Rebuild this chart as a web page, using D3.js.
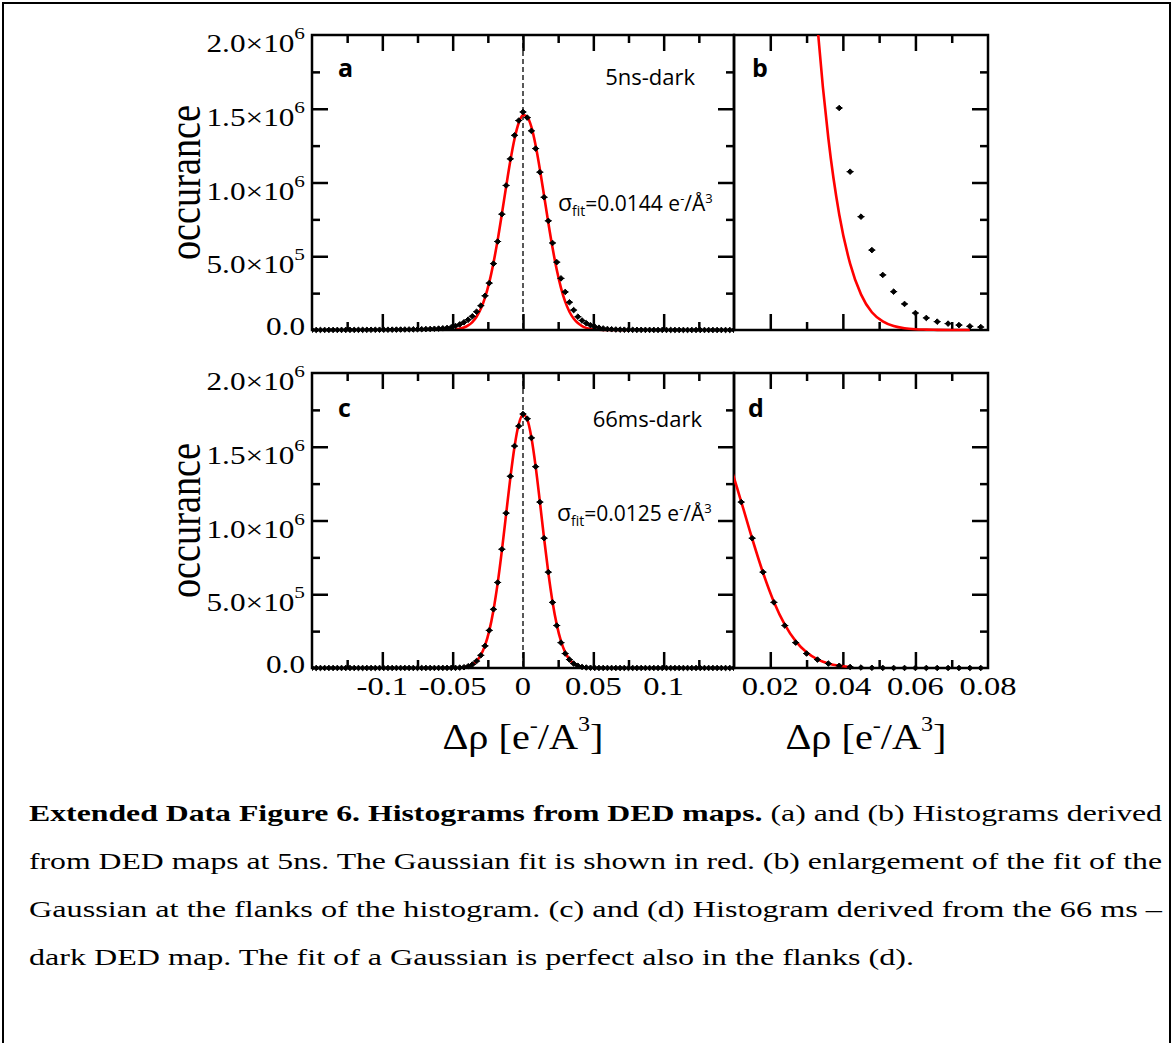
<!DOCTYPE html>
<html>
<head>
<meta charset="utf-8">
<script src="https://cdn.jsdelivr.net/npm/d3@7"></script>
<style>
body { margin: 0; background: #fff; }
</style>
</head>
<body>
<div id="chart"></div>
<script>
var W = 1173, H = 1043;

// histogram bin centres, step 0.003 e/A^3, from -0.15 to 0.15
var binStep = 0.003;
var bins = d3.range(-50, 51).map(function (k) { return +(k * binStep).toFixed(3); });

// occurrences per bin, in thousands
var counts5ns = [
    0.3, 0.3, 0.4, 0.4, 0.5, 0.5, 0.6, 0.6, 0.7, 0.8,
    0.9, 1.0, 1.1, 1.2, 1.4, 1.5, 1.7, 1.9, 2.1, 2.4,
    2.7, 3.0, 3.4, 3.8, 4.3, 4.9, 5.5, 6.3, 7.2, 8.3, 9.6, 11.5, 14, 19,
    27, 38, 52, 70, 93, 124, 165, 232, 318, 450, 600, 785, 980, 1160, 1320, 1420,
    1478,
    1440, 1350, 1230, 1070, 900, 740, 590, 460, 350, 258, 188, 135, 90.3, 64.4, 46.1, 32.5,
    22.4, 15.6, 10.6, 6.9, 4.9, 3.4, 2.6, 2.0, 1.5, 1.2,
    1.0, 0.9, 0.8, 0.7, 0.6, 0.5, 0.5, 0.4, 0.4, 0.3, 0.3, 0.3,
    0.2, 0.2, 0.2, 0.2, 0.1, 0.1, 0.1, 0.1, 0.1, 0.1, 0.1, 0.1
];
var counts66ms = [
    0.1, 0.1, 0.1, 0.1, 0.1, 0.1, 0.1, 0.1, 0.1, 0.1,
    0.1, 0.1, 0.1, 0.1, 0.2, 0.2, 0.2, 0.2, 0.2, 0.2,
    0.3, 0.3, 0.3, 0.3, 0.3, 0.4, 0.4, 0.4, 0.5, 0.5, 0.6, 0.6, 0.7, 0.8,
    0.9, 2.4, 5.2, 12, 24, 47, 86, 150, 255, 398, 580, 805, 1050, 1300, 1505, 1640,
    1722,
    1690, 1560, 1365, 1125, 880, 650, 445, 288, 172, 98, 57, 30, 15, 7, 3.1, 1.4,
    0.6, 0.3, 0.2, 0.2, 0.2, 0.1, 0.1, 0.1, 0.1, 0.1,
    0.1, 0.1, 0.1, 0.1, 0.1, 0.1, 0.1, 0.1, 0.1, 0.1, 0.1, 0.1,
    0.1, 0.1, 0.1, 0.1, 0.1, 0.1, 0.1, 0.1, 0.1, 0.1, 0.1, 0.1
];

// gaussian fits in thousands, sampled on the bins starting at bin index fit*Start
var fit5nsStart = -16;
var fit5ns = [
    4.5, 8.9, 16.9, 31, 54, 90, 144, 220, 323, 455, 611, 788, 971, 1147, 1297, 1405,
    1457,
    1446, 1375, 1251, 1090, 910, 727, 557, 408, 286, 192, 124, 78, 47, 27, 14.5, 7.2,
    3.5, 1.6, 0.7, 0.3, 0.15, 0.05, 0, 0, 0
];
var fit66msStart = -14;
var fit66ms = [
    5.3, 11.7, 24.2, 47.4, 87.6, 153, 252, 392, 575, 797, 1043, 1289, 1502, 1654,
    1719,
    1686, 1561, 1365, 1127, 878, 646, 448, 294, 182, 106, 58.5, 30.5, 15.0, 7.0
];

// ticks
var yTicks = [0, 500, 1000, 1500, 2000];
var yTickBase = ["0.0", "5.0×10", "1.0×10", "1.5×10", "2.0×10"];
var yTickExp = ["", "5", "6", "6", "6"];
var yMinor = [250, 750, 1250, 1750];
var yZoomMajor = [30, 60, 90];
var yZoomMinor = [15, 45, 75, 105];
var xWideTicks = [-0.1, -0.05, 0, 0.05, 0.1];
var xWideLabels = ["-0.1", "-0.05", "0", "0.05", "0.1"];
var xWideMinor = [-0.125, -0.075, -0.025, 0.025, 0.075, 0.125];
var xZoomTicks = [0.02, 0.04, 0.06, 0.08];
var xZoomLabels = ["0.02", "0.04", "0.06", "0.08"];
var xZoomMinor = [0.03, 0.05, 0.07];

var captionLines = [
    ["Extended Data Figure 6. Histograms from DED maps.", " (a) and (b) Histograms derived"],
    ["", "from DED maps at 5ns. The Gaussian fit is shown in red. (b) enlargement of the fit of the"],
    ["", "Gaussian at the flanks of the histogram. (c) and (d) Histogram derived from the 66 ms –"],
    ["", "dark DED map. The fit of a Gaussian is perfect also in the flanks (d)."]
];

var serif = "'Liberation Serif', 'Times New Roman', serif";
var sans = "'Open Sans', 'Noto Sans', sans-serif";
// the original figure is stretched sideways
var stretch = 1.25;

var svg = d3.select("#chart").append("svg")
    .attr("width", W)
    .attr("height", H)
    .style("display", "block");

svg.append("rect").attr("width", W).attr("height", H).attr("fill", "#fff");

// page border (no bottom edge in the picture)
svg.append("path")
    .attr("d", "M3," + H + "V3H1170V" + H)
    .attr("fill", "none")
    .attr("stroke", "#000")
    .attr("stroke-width", 2);

var xWide = d3.scaleLinear().domain([-0.15, 0.15]).range([312, 734]);
var xZoom = d3.scaleLinear().domain([0.01, 0.08]).range([734, 988]);
var yTopRow = d3.scaleLinear().domain([0, 2000]).range([330, 35]);
var yBotRow = d3.scaleLinear().domain([0, 2000]).range([668, 373]);
var yZoomB = d3.scaleLinear().domain([0, 120]).range([330, 35]);

var panels = [
    {name: "a", x: xWide, y: yTopRow, counts: counts5ns, fit: fit5ns, fitStart: fit5nsStart,
        wide: true, zoomY: false, tag: "5ns-dark", sigma: "0.0144",
        labelPos: [338, 77], tagPos: [695, 85], sigmaPos: [558, 211]},
    {name: "b", x: xZoom, y: yZoomB, counts: counts5ns, fit: fit5ns, fitStart: fit5nsStart,
        wide: false, zoomY: true, labelPos: [752, 77]},
    {name: "c", x: xWide, y: yBotRow, counts: counts66ms, fit: fit66ms, fitStart: fit66msStart,
        wide: true, zoomY: false, tag: "66ms-dark", sigma: "0.0125",
        labelPos: [338, 417], tagPos: [702, 427], sigmaPos: [557, 521]},
    {name: "d", x: xZoom, y: yBotRow, counts: counts66ms, fit: fit66ms, fitStart: fit66msStart,
        wide: false, zoomY: false, labelPos: [748, 417]}
];

var defs = svg.append("defs");

function tickSet(layer, gen, values, len, tx, ty) {
    layer.append("g")
        .attr("transform", "translate(" + tx + "," + ty + ")")
        .call(gen.tickValues(values).tickSize(-len).tickSizeOuter(0).tickFormat(""))
        .call(function (s) {
            s.select(".domain").remove();
            s.selectAll(".tick line").attr("stroke", "#000").attr("stroke-width", 2.5);
            s.selectAll(".tick text").remove();
        });
}

var markerPath = "M-3.5,0H3.5M0,-2.8L2.8,0L0,2.8L-2.8,0Z";

panels.forEach(function (p) {
    var x0 = p.x.range()[0], x1 = p.x.range()[1];
    var yb = p.y.range()[0], yt = p.y.range()[1];
    var clipId = "clip-" + p.name;

    defs.append("clipPath").attr("id", clipId)
        .append("rect")
        .attr("x", x0).attr("y", yt)
        .attr("width", x1 - x0).attr("height", yb - yt + 5);

    var low = svg.append("g").attr("clip-path", "url(#" + clipId + ")");
    var frame = svg.append("g");
    var high = svg.append("g").attr("clip-path", "url(#" + clipId + ")");
    var marks = svg.append("g").attr("clip-path", "url(#" + clipId + ")");

    var fitPts = p.fit.map(function (v, j) { return [bins[p.fitStart + 50 + j], v]; });
    var line = d3.line()
        .x(function (d) { return p.x(d[0]); })
        .y(function (d) { return p.y(d[1]); })
        .curve(d3.curveMonotoneX);

    if (p.wide) {
        low.append("line")
            .attr("x1", p.x(0)).attr("x2", p.x(0))
            .attr("y1", yt).attr("y2", yb)
            .attr("stroke", "#000")
            .attr("stroke-width", 1.3)
            .attr("stroke-dasharray", "5,3");
    }

    // the wide panels have the fit under the axes, the enlargements on top
    (p.wide ? low : high).append("path")
        .datum(fitPts)
        .attr("d", line)
        .attr("fill", "none")
        .attr("stroke", "#f00")
        .attr("stroke-width", 2.6)
        .attr("stroke-linejoin", "round");

    frame.append("rect")
        .attr("x", x0).attr("y", yt)
        .attr("width", x1 - x0).attr("height", yb - yt)
        .attr("fill", "none")
        .attr("stroke", "#000")
        .attr("stroke-width", 2.5);

    var xMaj = p.wide ? xWideTicks : xZoomTicks.filter(function (v) { return v < 0.08; });
    var xMin = p.wide ? xWideMinor : xZoomMinor;
    var yMaj = p.zoomY ? yZoomMajor : [500, 1000, 1500];
    var yMin = p.zoomY ? yZoomMinor : yMinor;

    tickSet(frame, d3.axisBottom(p.x), xMaj, 16, 0, yb);
    tickSet(frame, d3.axisBottom(p.x), xMin, 8, 0, yb);
    tickSet(frame, d3.axisTop(p.x), xMaj, 16, 0, yt);
    tickSet(frame, d3.axisTop(p.x), xMin, 8, 0, yt);
    tickSet(frame, d3.axisRight(p.y), yMaj, 16, x1, 0);
    tickSet(frame, d3.axisRight(p.y), yMin, 8, x1, 0);
    if (p.wide) {
        tickSet(frame, d3.axisLeft(p.y), yMaj, 16, x0, 0);
        tickSet(frame, d3.axisLeft(p.y), yMin, 8, x0, 0);
    }

    // data points
    marks.selectAll("path")
        .data(p.counts.map(function (v, i) { return [bins[i], v]; }))
        .enter()
        .append("path")
        .attr("d", markerPath)
        .attr("transform", function (d) {
            return "translate(" + p.x(d[0]) + "," + p.y(d[1]) + ")";
        })
        .attr("fill", "#000")
        .attr("stroke", "#000")
        .attr("stroke-width", 1);

    // panel letter
    svg.append("text")
        .attr("x", p.labelPos[0]).attr("y", p.labelPos[1])
        .attr("font-family", sans)
        .attr("font-weight", "bold")
        .attr("font-size", 25)
        .text(p.name);

    if (p.wide) {
        svg.append("text")
            .attr("x", p.tagPos[0]).attr("y", p.tagPos[1])
            .attr("text-anchor", "end")
            .attr("font-family", sans)
            .attr("font-size", 22)
            .text(p.tag);

        var s = svg.append("text")
            .attr("x", p.sigmaPos[0]).attr("y", p.sigmaPos[1])
            .attr("font-family", sans)
            .attr("font-size", 21);
        s.append("tspan").attr("font-size", 23).text("σ");
        s.append("tspan").attr("font-size", 14).attr("dy", 5).text("fit");
        s.append("tspan").attr("dy", -5).text("=" + p.sigma + " e");
        s.append("tspan").attr("font-size", 13).attr("dy", -8).text("-");
        s.append("tspan").attr("dy", 8).text("/Å");
        s.append("tspan").attr("font-size", 13).attr("dy", -8).text("3");

        // y tick labels
        yTicks.forEach(function (v, i) {
            var t = svg.append("text")
                .attr("transform", "translate(" + (x0 - 7) + "," + (p.y(v) + (yTickExp[i] ? 17 : 5)) +
                    ") scale(" + stretch + ",1)")
                .attr("text-anchor", "end")
                .attr("font-family", serif)
                .attr("font-size", 25)
                .text(yTickBase[i]);
            if (yTickExp[i]) {
                t.append("tspan").attr("font-size", 17).attr("dy", -13).text(yTickExp[i]);
            }
        });

        svg.append("text")
            .attr("transform", "translate(200," + ((yt + yb) / 2) + ") rotate(-90)")
            .attr("text-anchor", "middle")
            .attr("font-family", serif)
            .attr("font-size", 46)
            .attr("textLength", 155)
            .attr("lengthAdjust", "spacingAndGlyphs")
            .text("occurance");
    }
});

// x tick labels under the bottom row
function xLabels(scale, values, labels) {
    svg.append("g").selectAll("text")
        .data(values)
        .enter()
        .append("text")
        .attr("transform", function (d) {
            return "translate(" + scale(d) + ",695) scale(" + stretch + ",1)";
        })
        .attr("text-anchor", "middle")
        .attr("font-family", serif)
        .attr("font-size", 26)
        .text(function (d, i) { return labels[i]; });
}
xLabels(xWide, xWideTicks, xWideLabels);
xLabels(xZoom, xZoomTicks, xZoomLabels);

// x axis titles
[523, 866].forEach(function (cx) {
    var t = svg.append("text")
        .attr("transform", "translate(" + cx + ",749) scale(1.15,1)")
        .attr("text-anchor", "middle")
        .attr("font-family", serif)
        .attr("font-size", 35);
    t.append("tspan").text("Δρ [e");
    t.append("tspan").attr("font-size", 21).attr("dy", -17).text("-");
    t.append("tspan").attr("dy", 17).text("/A");
    t.append("tspan").attr("font-size", 21).attr("dy", -18).text("3");
    t.append("tspan").attr("dy", 18).text("]");
});

// caption, justified and stretched like the original
var capY = [821, 869, 917, 965];
var capW = [1133, 1133, 1133, 885];
captionLines.forEach(function (ln, i) {
    var t = svg.append("text")
        .attr("x", 29).attr("y", capY[i])
        .attr("font-family", serif)
        .attr("font-size", 24)
        .attr("textLength", capW[i])
        .attr("lengthAdjust", "spacingAndGlyphs");
    if (ln[0]) t.append("tspan").attr("font-weight", "bold").text(ln[0]);
    t.append("tspan").text(ln[1]);
});
</script>
</body>
</html>
